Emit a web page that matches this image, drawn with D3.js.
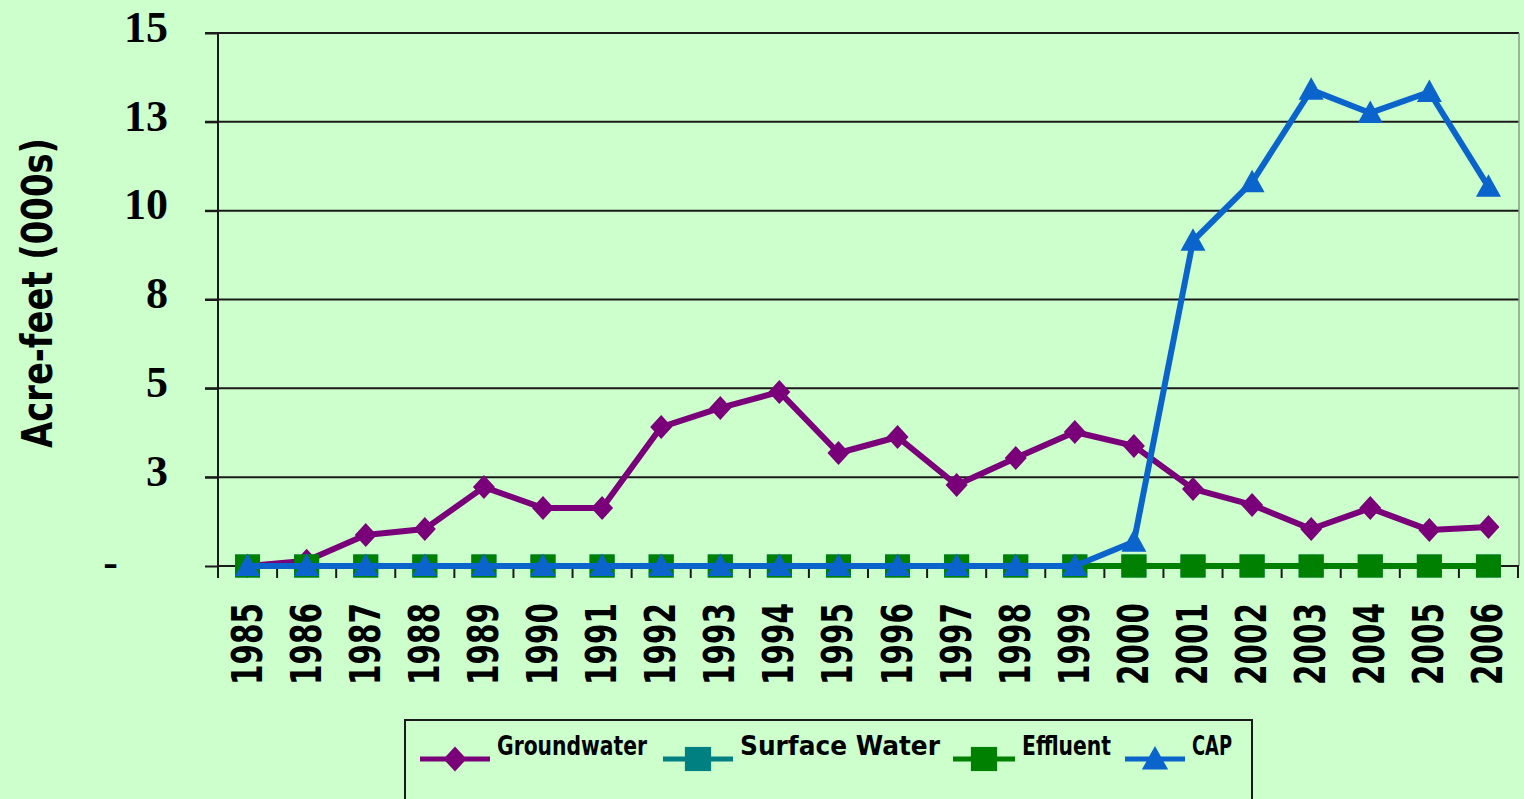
<!DOCTYPE html>
<html>
<head>
<meta charset="utf-8">
<script src="https://cdn.jsdelivr.net/npm/d3@7"></script>
<style>
  html, body { margin: 0; padding: 0; background: #ccffcc; }
  svg { display: block; }
</style>
</head>
<body>
<script>
var width = 1524,
    height = 799;

// data
var years = ["1985", "1986", "1987", "1988", "1989", "1990", "1991", "1992", "1993", "1994", "1995",
             "1996", "1997", "1998", "1999", "2000", "2001", "2002", "2003", "2004", "2005", "2006"];
var groundwater = [0, 0.15, 0.87, 1.04, 2.22, 1.63, 1.63, 3.91, 4.45, 4.9, 3.18,
                   3.63, 2.28, 3.04, 3.77, 3.38, 2.17, 1.72, 1.04, 1.63, 1.01, 1.1];
var surfaceWater = [0, 0, 0, 0, 0, 0, 0, 0, 0, 0, 0, 0, 0, 0, 0, 0, 0, 0, 0, 0, 0, 0];
var effluent = [0, 0, 0, 0, 0, 0, 0, 0, 0, 0, 0, 0, 0, 0, 0, 0, 0, 0, 0, 0, 0, 0];
var cap = [0, 0, 0, 0, 0, 0, 0, 0, 0, 0, 0, 0, 0, 0, 0, 0.68, 9.15, 10.8, 13.4, 12.75, 13.34, 10.67];
var seriesNames = ["Groundwater", "Surface Water", "Effluent", "CAP"];
var yTicks = [0, 2.5, 5, 7.5, 10, 12.5, 15];

var series = [
    { name: seriesNames[0], values: groundwater, color: "#7a007a", marker: "diamond" },
    { name: seriesNames[1], values: surfaceWater, color: "#008080", marker: "square" },
    { name: seriesNames[2], values: effluent, color: "#008000", marker: "square" },
    { name: seriesNames[3], values: cap, color: "#0a64cc", marker: "triangle" }
];

var svg = d3.select("body")
    .append("svg")
    .attr("width", width)
    .attr("height", height);

svg.append("rect")
    .attr("width", width)
    .attr("height", height)
    .attr("fill", "#ccffcc");

var x = d3.scaleBand()
    .domain(years)
    .range([218, 1518]);

var y = d3.scaleLinear()
    .domain([0, 15])
    .range([566, 33]);

function cx(i) { return x(years[i]) + x.bandwidth() / 2; }

// marker shapes
function markerPath(type, s) {
    if (type === "diamond") {
        var w = 11 * s, h = 12 * s;
        return "M0," + (-h) + "L" + w + ",0L0," + h + "L" + (-w) + ",0Z";
    }
    if (type === "square") {
        var a = 12.5 * s, b = 11.5 * s;
        return "M" + (-a) + "," + (-b) + "H" + a + "V" + b + "H" + (-a) + "Z";
    }
    var t = 12.5 * s;
    return "M0," + (-t) + "L" + t + "," + t * 0.8 + "L" + (-t) + "," + t * 0.8 + "Z";
}

// gridlines
svg.append("g")
    .selectAll("line")
    .data(yTicks.slice(1))
    .enter().append("line")
    .attr("x1", 205)
    .attr("x2", 1519)
    .attr("y1", function (d) { return y(d); })
    .attr("y2", function (d) { return y(d); })
    .attr("stroke", "#1a1a1a")
    .attr("stroke-width", 2);

// right border of plot
svg.append("line")
    .attr("x1", 1519).attr("x2", 1519)
    .attr("y1", 33).attr("y2", 566)
    .attr("stroke", "#8a9a8a")
    .attr("stroke-width", 1.5);

// y axis
var yAxis = d3.axisLeft(y)
    .tickValues(yTicks)
    .tickSize(13)
    .tickFormat(function (d) { return d === 0 ? "-" : Math.round(d); });

var gy = svg.append("g")
    .attr("transform", "translate(218,0)")
    .call(yAxis);

gy.select(".domain")
    .attr("d", "M0,33V578")
    .attr("stroke", "#1a1a1a")
    .attr("stroke-width", 2);

gy.selectAll(".tick line")
    .attr("stroke", "#1a1a1a")
    .attr("stroke-width", 2);

gy.selectAll(".tick text")
    .attr("x", function (d) { return d === 0 ? -100 : -50; })
    .attr("dy", function (d) { return d === 0 ? "0.34em" : "0.28em"; })
    .attr("y", -4)
    .attr("fill", "#000")
    .style("font-family", "'Liberation Serif', serif")
    .style("font-weight", "bold")
    .style("font-size", "44px");

// x axis: ticks at category boundaries
var gx = svg.append("g");

gx.append("line")
    .attr("x1", 218).attr("x2", 1519)
    .attr("y1", 566).attr("y2", 566)
    .attr("stroke", "#1a1a1a")
    .attr("stroke-width", 2);

gx.selectAll("line.tk")
    .data(years)
    .enter().append("line")
    .attr("class", "tk")
    .attr("x1", function (d) { return x(d) + x.bandwidth(); })
    .attr("x2", function (d) { return x(d) + x.bandwidth(); })
    .attr("y1", 566)
    .attr("y2", 578)
    .attr("stroke", "#1a1a1a")
    .attr("stroke-width", 2);

gx.selectAll("text")
    .data(years)
    .enter().append("text")
    .attr("transform", function (d) {
        return "translate(" + (x(d) + x.bandwidth() / 2 + 14) + ",685) rotate(-90)";
    })
    .attr("text-anchor", "start")
    .attr("textLength", 82)
    .attr("lengthAdjust", "spacingAndGlyphs")
    .style("font-family", "'DejaVu Sans', sans-serif")
    .style("font-weight", "bold")
    .style("font-size", "42px")
    .text(function (d) { return d; });

// y axis title
svg.append("text")
    .attr("transform", "translate(52,293) rotate(-90)")
    .attr("text-anchor", "middle")
    .attr("textLength", 310)
    .attr("lengthAdjust", "spacingAndGlyphs")
    .style("font-family", "'DejaVu Sans', sans-serif")
    .style("font-weight", "bold")
    .style("font-size", "42px")
    .text("Acre-feet (000s)");

// series
var line = d3.line()
    .x(function (d, i) { return cx(i); })
    .y(function (d) { return y(d); });

var gs = svg.append("g")
    .selectAll("g")
    .data(series)
    .enter().append("g");

gs.append("path")
    .attr("d", function (d) { return line(d.values); })
    .attr("fill", "none")
    .attr("stroke", function (d) { return d.color; })
    .attr("stroke-width", 6)
    .attr("stroke-linejoin", "round");

gs.each(function (s) {
    d3.select(this).selectAll("path.mk")
        .data(s.values)
        .enter().append("path")
        .attr("class", "mk")
        .attr("transform", function (d, i) { return "translate(" + cx(i) + "," + y(d) + ")"; })
        .attr("d", markerPath(s.marker, 1))
        .attr("fill", s.color);
});

// legend
svg.append("rect")
    .attr("x", 405)
    .attr("y", 720)
    .attr("width", 847)
    .attr("height", 100)
    .attr("fill", "#ccffcc")
    .attr("stroke", "#1a1a1a")
    .attr("stroke-width", 2);

var legendX = [420, 663, 953, 1125],
    legendLen = [70, 70, 62, 60],
    legendText = [150, 200, 89, 40];

var lg = svg.append("g")
    .selectAll("g")
    .data(series)
    .enter().append("g")
    .attr("transform", function (d, i) { return "translate(" + legendX[i] + ",759)"; });

lg.append("line")
    .attr("x1", 0)
    .attr("x2", function (d, i) { return legendLen[i]; })
    .attr("stroke", function (d) { return d.color; })
    .attr("stroke-width", 5);

lg.append("path")
    .attr("transform", function (d, i) { return "translate(" + legendLen[i] / 2 + ",0)"; })
    .attr("d", function (d) { return markerPath(d.marker, 1.05); })
    .attr("fill", function (d) { return d.color; });

lg.append("text")
    .attr("x", function (d, i) { return legendLen[i] + 7; })
    .attr("y", -4)
    .attr("textLength", function (d, i) { return legendText[i]; })
    .attr("lengthAdjust", "spacingAndGlyphs")
    .style("font-family", "'DejaVu Sans', sans-serif")
    .style("font-weight", "bold")
    .style("font-size", "27px")
    .text(function (d) { return d.name; });
</script>
</body>
</html>
